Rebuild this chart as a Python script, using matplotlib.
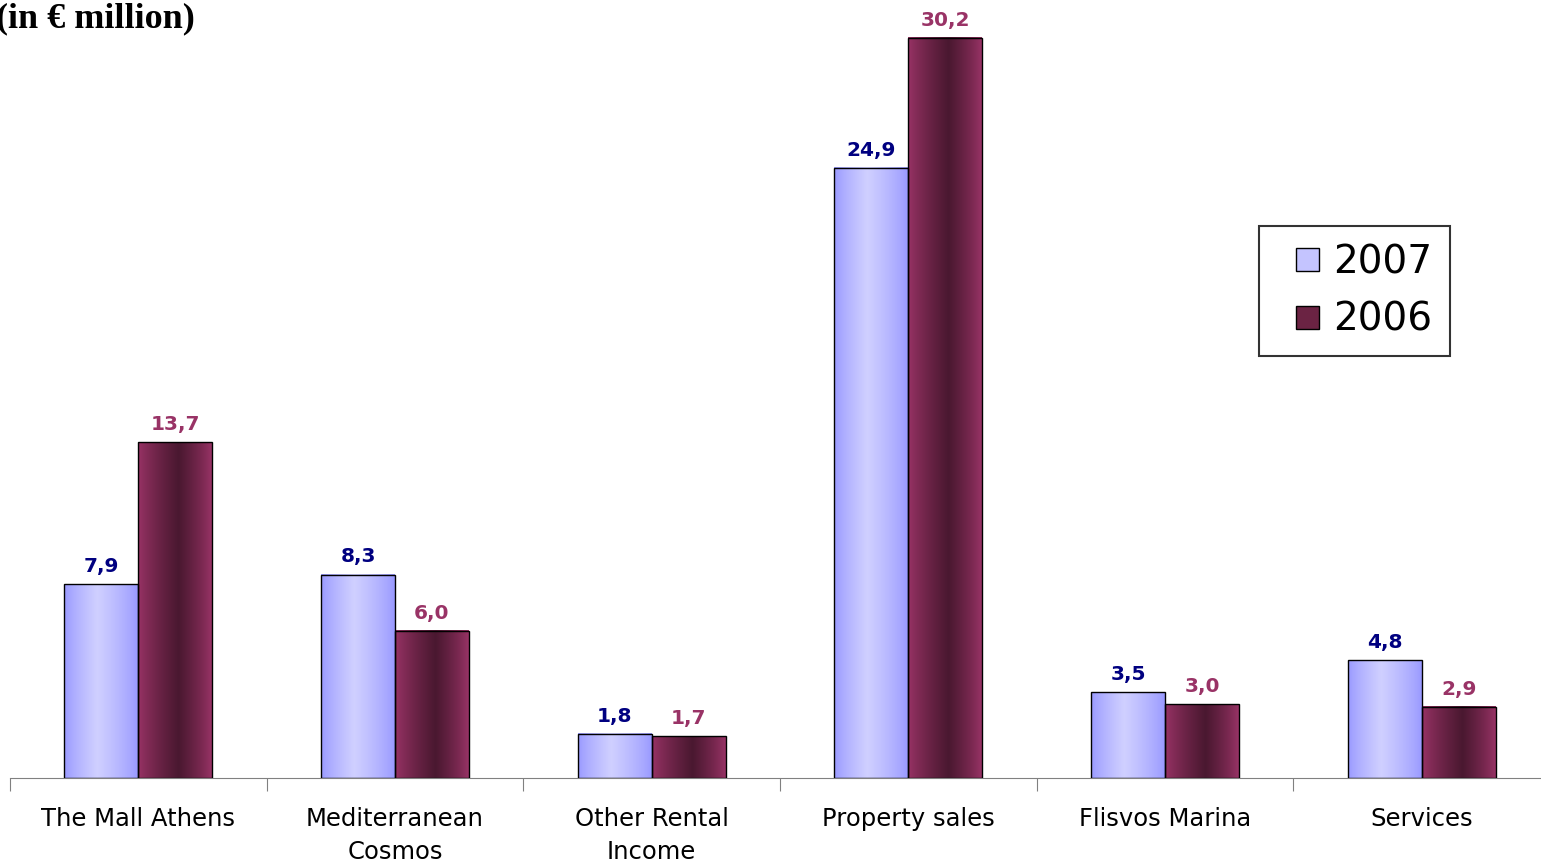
import numpy as np
import matplotlib
matplotlib.use("Agg")
import matplotlib.pyplot as plt
from matplotlib.colors import to_rgb
from matplotlib.patches import Patch, Rectangle
from matplotlib.legend_handler import HandlerPatch

categories = ["The Mall Athens", "Mediterranean\nCosmos", "Other Rental\nIncome",
              "Property sales", "Flisvos Marina", "Services"]
values_2007 = [7.9, 8.3, 1.8, 24.9, 3.5, 4.8]
values_2006 = [13.7, 6.0, 1.7, 30.2, 3.0, 2.9]
labels_2007 = ["7,9", "8,3", "1,8", "24,9", "3,5", "4,8"]
labels_2006 = ["13,7", "6,0", "1,7", "30,2", "3,0", "2,9"]


def gradient(edge, mid, peak, n=64):
    # horizontal shading: edge colour -> mid colour (at peak) -> edge colour
    t = np.linspace(0, 1, n)
    w = np.where(t < peak, t / peak, (1 - t) / (1 - peak))
    w = np.clip(w, 0, 1) ** 0.8
    e, m = np.array(to_rgb(edge)), np.array(to_rgb(mid))
    return (e[None, :] * (1 - w[:, None]) + m[None, :] * w[:, None])[None, :, :]


def square_handle(legend, orig_handle, xdescent, ydescent, width, height, fontsize):
    # small square pushed to the right end of the handle box
    s = 0.6 * fontsize
    return Rectangle((-xdescent + width - s, -ydescent + (height - s) / 2), s, s)


grad_2007 = gradient("#9999ff", "#d0d0ff", 0.45)
grad_2006 = gradient("#993366", "#4a1830", 0.55)

fig = plt.figure(figsize=(15.41, 8.61), dpi=100)
ax = fig.add_axes([10 / 1541, 83 / 861, 1540 / 1541, 778 / 861])

x = np.arange(len(categories))
w = 0.288
bars07 = ax.bar(x - w / 2, values_2007, w, facecolor="none", edgecolor="black", linewidth=1, zorder=3)
bars06 = ax.bar(x + w / 2, values_2006, w, facecolor="none", edgecolor="black", linewidth=1, zorder=3)

for bars, grad in ((bars07, grad_2007), (bars06, grad_2006)):
    for b in bars:
        ax.imshow(grad, extent=[b.get_x(), b.get_x() + b.get_width(), 0, b.get_height()],
                  aspect="auto", zorder=2, interpolation="bilinear")

for bars, labs, col in ((bars07, labels_2007, "#000080"), (bars06, labels_2006, "#993366")):
    for b, lab in zip(bars, labs):
        ax.annotate(lab, (b.get_x() + b.get_width() / 2, b.get_height()),
                    xytext=(0, 6), textcoords="offset points", ha="center", va="bottom",
                    fontsize=14.5, fontweight="bold", color=col, family="DejaVu Sans")

ax.set_xlim(-0.5, len(categories) - 0.5)
ax.set_ylim(0, 31.75)

for s in ("top", "right", "left"):
    ax.spines[s].set_visible(False)
ax.spines["bottom"].set_color("#808080")
ax.set_yticks([])
ax.set_xticks(np.arange(len(categories) + 1) - 0.5)
ax.set_xticklabels([])
ax.tick_params(axis="x", length=9, color="#808080", direction="out")
ax.set_xticks(x, minor=True)
ax.set_xticklabels(categories, minor=True, fontsize=17.5, family="DejaVu Sans",
                   linespacing=1.45)
ax.tick_params(axis="x", which="minor", length=0, pad=21)

leg = ax.legend(handles=[Patch(facecolor="#c4c4ff", edgecolor="black", label="2007"),
                         Patch(facecolor="#6b2343", edgecolor="black", label="2006")],
                handler_map={Patch: HandlerPatch(patch_func=square_handle)},
                loc="upper left", bbox_to_anchor=(1249 / 1540, 1 - 226 / 778),
                prop={"family": "DejaVu Sans", "size": 28}, frameon=True, fancybox=False,
                edgecolor="black", handlelength=1.1, handleheight=0.6, handletextpad=0.35,
                borderpad=0.45, labelspacing=0.5, borderaxespad=0)
leg.get_frame().set_linewidth(1.5)

fig.text(-4 / 1541, 1 - 2 / 861, "(in € million)", ha="left", va="top", fontsize=26,
         fontweight="bold", family="Liberation Serif")

fig.savefig("out.png", dpi=100)
